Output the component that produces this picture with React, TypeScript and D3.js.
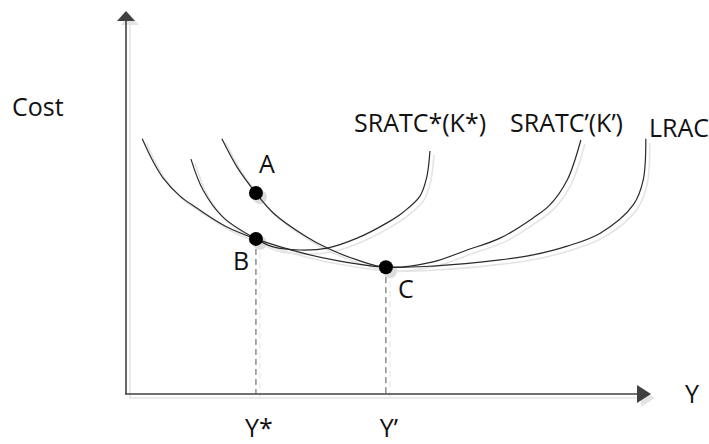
import React, { useEffect, useRef } from "react";
import * as d3 from "d3";

const width = 709;
const height = 444;

// output (Y) on x, cost on y, both 0-100 units
const lracX = [3.1, 5.0, 7.1, 10.3, 13.5, 18.9, 24.8, 34.5, 40.8, 49.6, 58.6, 71.4, 77.7, 84.2, 90.5, 96.8, 98.7, 99.2];
const lracY = [66.8, 61.3, 56.5, 51.8, 48.7, 44.0, 40.6, 36.6, 34.8, 33.2, 33.5, 35.1, 36.4, 38.7, 42.1, 49.5, 56.0, 66.8];

const srStarX = [12.4, 14.7, 18.5, 24.8, 28.1, 33.2, 38.4, 44.1, 49.8, 52.9, 56.1, 57.4, 58.0];
const srStarY = [61.5, 53.4, 46.3, 40.6, 38.5, 37.7, 38.2, 40.8, 44.8, 47.6, 51.8, 56.8, 63.6];

const srPrimeX = [18.3, 21.2, 24.8, 28.1, 34.5, 38.4, 44.1, 49.6, 58.6, 65.1, 71.4, 77.7, 80.9, 84.2, 86.8];
const srPrimeY = [66.8, 59.4, 52.6, 47.4, 41.1, 38.2, 35.1, 33.2, 34.6, 37.7, 40.8, 46.1, 49.5, 56.0, 66.5];

const curveNames = ["LRAC", "SRATC*(K*)", "SRATC’(K’)"];

const pointNames = ["A", "B", "C"];
const pointX = [24.8, 24.8, 49.6];
const pointY = [52.6, 40.6, 33.2];

const dropNames = ["Y*", "Y’"];
const dropX = [24.8, 49.6];
const dropTopY = [40.6, 33.2];

const axisNames = ["Y", "Cost"];

export default function App() {
  const svgRef = useRef<SVGSVGElement>(null);

  useEffect(() => {
    const svg = d3.select(svgRef.current);
    svg.selectAll("*").remove();

    const xScale = d3.scaleLinear().domain([0, 100]).range([126, 650]);
    const yScale = d3.scaleLinear().domain([0, 100]).range([394, 12]);

    const line = d3
      .line<[number, number]>()
      .x((d) => xScale(d[0]))
      .y((d) => yScale(d[1]))
      .curve(d3.curveCatmullRom.alpha(0.5));

    const curves = [
      d3.zip(lracX, lracY) as [number, number][],
      d3.zip(srStarX, srStarY) as [number, number][],
      d3.zip(srPrimeX, srPrimeY) as [number, number][],
    ];

    const x0 = xScale(0);
    const y0 = yScale(0);
    const xEnd = xScale(100);
    const yTop = yScale(100);

    const draw = (g, shadow) => {
      const ink = shadow ? "#e4e4e4" : "#404040";

      // axes
      g.append("line")
        .attr("x1", x0).attr("y1", y0)
        .attr("x2", x0).attr("y2", yTop + 8)
        .attr("stroke", ink).attr("stroke-width", 1.6);
      g.append("path")
        .attr("d", `M${x0},${yTop - 1}L${x0 - 9},${yTop + 9}L${x0 + 9},${yTop + 9}Z`)
        .attr("fill", ink);
      g.append("line")
        .attr("x1", x0 - 1).attr("y1", y0)
        .attr("x2", xEnd - 12).attr("y2", y0)
        .attr("stroke", ink).attr("stroke-width", 1.6);
      g.append("path")
        .attr("d", `M${xEnd + 1},${y0}L${xEnd - 13},${y0 - 9}L${xEnd - 13},${y0 + 9}Z`)
        .attr("fill", ink);

      // dashed drop lines
      dropX.forEach((dx, i) => {
        g.append("line")
          .attr("x1", xScale(dx)).attr("y1", yScale(dropTopY[i]))
          .attr("x2", xScale(dx)).attr("y2", y0)
          .attr("stroke", shadow ? "#e4e4e4" : "#555")
          .attr("stroke-width", 1)
          .attr("stroke-dasharray", "6,4");
      });

      curves.forEach((c) => {
        g.append("path")
          .datum(c)
          .attr("fill", "none")
          .attr("stroke", shadow ? "#e4e4e4" : "#2a2a2a")
          .attr("stroke-width", shadow ? 1.6 : 1.2)
          .attr("d", line);
      });

      pointX.forEach((px, i) => {
        g.append("circle")
          .attr("cx", xScale(px))
          .attr("cy", yScale(pointY[i]))
          .attr("r", 7)
          .attr("fill", shadow ? "#dcdcdc" : "#000");
      });
    };

    draw(svg.append("g").attr("transform", "translate(4,4)"), true);
    draw(svg.append("g"), false);

    const text = svg
      .append("g")
      .attr("font-family", "'Open Sans', sans-serif")
      .attr("font-size", 25)
      .attr("fill", "#111");

    // curve labels near the upper ends
    const labelPos = [
      [649, 137],
      [354, 132],
      [510, 132],
    ];
    curveNames.forEach((n, i) => {
      text.append("text").attr("x", labelPos[i][0]).attr("y", labelPos[i][1]).text(n);
    });

    const pointOffset = [
      [3, -20],
      [-23, 31],
      [12, 31],
    ];
    pointNames.forEach((n, i) => {
      text
        .append("text")
        .attr("x", xScale(pointX[i]) + pointOffset[i][0])
        .attr("y", yScale(pointY[i]) + pointOffset[i][1])
        .text(n);
    });

    dropNames.forEach((n, i) => {
      text
        .append("text")
        .attr("x", xScale(dropX[i]) + 3)
        .attr("y", 437)
        .attr("text-anchor", "middle")
        .text(n);
    });

    text.append("text").attr("x", 685).attr("y", 403).text(axisNames[0]);
    text.append("text").attr("x", 12).attr("y", 116).text(axisNames[1]);
  }, []);

  return (
    <svg
      ref={svgRef}
      width={width}
      height={height}
      style={{ position: "absolute", left: 0, top: 0, background: "#fff" }}
    />
  );
}
